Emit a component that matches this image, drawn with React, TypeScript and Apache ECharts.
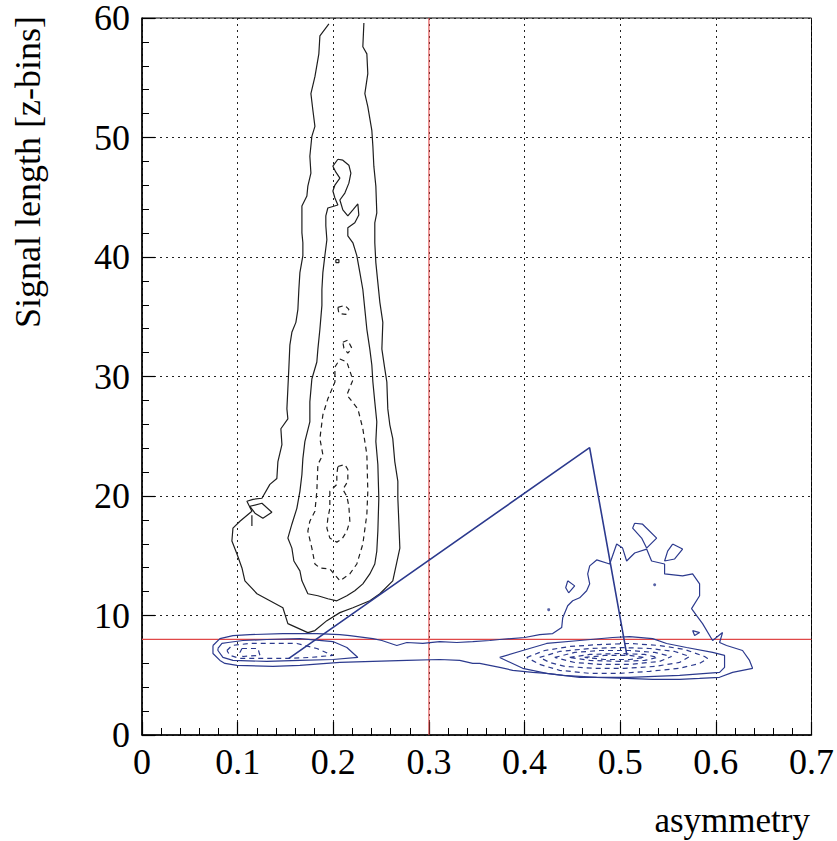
import React, { useEffect, useRef } from 'react';
import * as echarts from 'echarts';

type Pt = [number, number];

// axis ranges
const X_MIN = 0, X_MAX = 0.7, X_STEP = 0.1;
const Y_MIN = 0, Y_MAX = 60, Y_STEP = 10;
const CUT_X = 0.3;
const CUT_Y = 8;

// ---- electrons (black) contours ----
const electronsOuter: Pt[] = [
  [0.1954, 59.5], [0.186, 58.5], [0.1849, 57.0], [0.1808, 55.09], [0.1766, 53.67], [0.1787, 52.26],
  [0.1808, 50.93], [0.1776, 50.1], [0.1755, 48.43], [0.1766, 47.02], [0.1734, 45.93], [0.1724, 45.1],
  [0.1672, 44.27], [0.1672, 42.02], [0.1682, 41.19], [0.1682, 40.11], [0.1651, 38.69], [0.164, 37.28],
  [0.163, 35.62], [0.1609, 34.53], [0.1567, 33.7], [0.1546, 32.62], [0.1536, 30.79], [0.1525, 28.96],
  [0.1515, 27.29], [0.1525, 26.46], [0.1452, 25.63], [0.1463, 24.3], [0.1421, 22.88], [0.141, 21.47],
  [0.1337, 20.97], [0.1254, 19.81], [0.116, 19.72], [0.1097, 19.56], [0.1149, 18.72], [0.1024, 17.89],
  [0.0951, 17.31], [0.094, 16.23], [0.0993, 15.15], [0.1045, 13.98], [0.1076, 12.9], [0.1202, 11.82],
  [0.1473, 10.65], [0.1525, 9.32], [0.1734, 8.57], [0.1808, 8.74], [0.1933, 9.57], [0.2069, 10.24],
  [0.2205, 10.65], [0.2382, 11.23], [0.2487, 11.82], [0.2622, 12.9], [0.2696, 15.64], [0.2685, 17.89],
  [0.2675, 19.81], [0.2675, 21.22], [0.2643, 22.88], [0.2622, 24.8], [0.2591, 25.96], [0.257, 27.29],
  [0.256, 29.54], [0.2539, 30.62], [0.2508, 32.29], [0.2518, 34.53], [0.2487, 36.2], [0.2466, 37.86],
  [0.2445, 39.53], [0.2434, 41.19], [0.2434, 42.86], [0.2455, 43.69], [0.2445, 45.93], [0.2424, 47.6],
  [0.2414, 49.26], [0.2403, 50.6], [0.2361, 52.59], [0.233, 53.67], [0.2361, 55.34], [0.2351, 57.0],
  [0.2309, 57.59], [0.232, 59.58],
];
const electronsKnot: Pt[] = [
  [0.1128, 19.14], [0.1254, 19.39], [0.1358, 18.64], [0.1264, 18.14], [0.1181, 18.56],
];
const electronsTick: Pt[] = [[0.1149, 18.39], [0.1149, 17.48]];
const electronsSecond: Pt[] = [
  [0.2048, 48.18], [0.21, 48.1], [0.2163, 47.68], [0.2184, 47.02], [0.2163, 46.18], [0.2121, 45.35],
  [0.2069, 44.77], [0.21, 43.94], [0.2152, 43.44], [0.2205, 43.94], [0.2257, 44.44], [0.2267, 43.52],
  [0.2225, 42.86], [0.2152, 42.44], [0.2152, 41.77], [0.2205, 41.19], [0.2246, 40.11], [0.2278, 38.69],
  [0.2309, 37.28], [0.233, 35.62], [0.2351, 33.95], [0.2382, 32.29], [0.2403, 30.96], [0.2414, 29.54],
  [0.2434, 27.88], [0.2455, 26.21], [0.2445, 24.55], [0.2466, 22.63], [0.2476, 19.81], [0.2466, 17.06],
  [0.2455, 15.39], [0.2434, 14.31], [0.2382, 13.48], [0.2309, 12.65], [0.2225, 12.07], [0.2142, 11.65],
  [0.2037, 11.23], [0.1943, 11.4], [0.1839, 11.65], [0.1734, 11.82], [0.1672, 12.9], [0.1651, 13.73],
  [0.1588, 14.56], [0.1567, 15.64], [0.1525, 16.48], [0.1567, 17.64], [0.1619, 18.97], [0.1651, 20.39],
  [0.1672, 21.8], [0.1682, 23.13], [0.1703, 24.55], [0.1755, 26.21], [0.1755, 27.88], [0.1776, 29.79],
  [0.1828, 31.21], [0.1839, 32.29], [0.186, 33.95], [0.1881, 35.95], [0.1881, 37.28], [0.1891, 38.69],
  [0.1912, 40.11], [0.1933, 41.44], [0.1922, 42.61], [0.1922, 43.44], [0.1943, 44.1], [0.2048, 44.35],
  [0.2017, 44.94], [0.1996, 45.52], [0.2017, 46.02], [0.2069, 46.6], [0.2027, 47.1], [0.1996, 47.6],
];
const electronsThird: Pt[] = [
  [0.2069, 31.46], [0.2142, 31.21], [0.2205, 29.71], [0.2142, 28.46], [0.2257, 27.29], [0.2309, 25.63],
  [0.2351, 23.47], [0.2361, 20.39], [0.2351, 18.47], [0.2309, 15.98], [0.2246, 14.31], [0.2173, 13.48],
  [0.2069, 12.9], [0.1964, 13.9], [0.186, 13.98], [0.1808, 14.31], [0.1776, 15.64], [0.1734, 17.06],
  [0.1755, 17.89], [0.1808, 18.72], [0.1828, 20.39], [0.1839, 22.63], [0.1891, 23.47], [0.186, 24.8],
  [0.1891, 26.79], [0.1943, 28.13], [0.2017, 29.54], [0.2017, 30.79],
];
const electronsFourth: Pt[] = [
  [0.2048, 22.47], [0.2121, 22.63], [0.2152, 22.22], [0.2152, 21.22], [0.21, 20.55], [0.2142, 19.97],
  [0.2163, 19.14], [0.2173, 17.89], [0.2142, 17.06], [0.209, 16.39], [0.2037, 16.14], [0.1964, 16.48],
  [0.1933, 17.31], [0.1943, 18.14], [0.1964, 18.97], [0.1964, 20.39], [0.2037, 20.97], [0.2037, 21.8],
];
const electronsIsland1: Pt[] = [[0.2048, 35.78], [0.2121, 35.95], [0.2163, 35.62], [0.2131, 35.2], [0.2058, 35.28]];
const electronsIsland2: Pt[] = [[0.21, 32.87], [0.2152, 33.04], [0.2194, 32.37], [0.2152, 31.95], [0.2111, 32.37]];
const electronsIsland3: Pt[] = [[0.2027, 39.78], [0.2059, 39.78], [0.2059, 39.53], [0.2027, 39.53]];

// ---- discharges (blue) contours ----
const dischargesOuter: Pt[] = [
  [0.0742, 7.49], [0.0815, 8.07], [0.0951, 8.32], [0.1128, 8.4], [0.1473, 8.49], [0.1828, 8.49],
  [0.2069, 8.4], [0.2173, 8.32], [0.2414, 8.07], [0.2508, 7.91], [0.2664, 7.49], [0.2769, 7.74],
  [0.2936, 7.66], [0.3113, 7.82], [0.3291, 7.74], [0.3458, 7.82], [0.3636, 7.91], [0.374, 7.99],
  [0.4002, 8.16], [0.4158, 8.4], [0.4294, 8.49], [0.4388, 8.99], [0.4399, 9.82], [0.4451, 10.82],
  [0.4503, 11.23], [0.4576, 11.48], [0.4649, 12.07], [0.4681, 12.65], [0.466, 13.48], [0.4681, 14.15],
  [0.4754, 14.65], [0.489, 14.31], [0.4963, 15.98], [0.5025, 15.64], [0.5067, 14.56], [0.5151, 15.23],
  [0.5276, 15.56], [0.5328, 14.56], [0.5464, 14.31], [0.5464, 13.48], [0.5652, 13.31], [0.5757, 13.48],
  [0.583, 12.65], [0.583, 11.65], [0.5746, 10.57], [0.5799, 9.99], [0.5861, 9.32], [0.5966, 7.91],
  [0.607, 8.57], [0.6039, 7.74], [0.6112, 7.49], [0.6279, 7.07], [0.6352, 6.24], [0.6384, 5.58],
  [0.6279, 5.41], [0.6175, 5.24], [0.6039, 4.83], [0.583, 4.74], [0.5621, 4.66], [0.5339, 4.66],
  [0.5067, 4.74], [0.4754, 4.83], [0.4399, 4.99], [0.4231, 5.16], [0.4085, 5.24], [0.3876, 5.41],
  [0.374, 5.66], [0.3531, 5.99], [0.3458, 5.99], [0.3322, 6.24], [0.3113, 6.32], [0.2769, 6.24],
  [0.2414, 6.16], [0.2069, 6.07], [0.1651, 5.83], [0.1369, 5.74], [0.0993, 5.83], [0.0867, 5.99],
  [0.0815, 6.24], [0.0742, 6.82],
];
const dischargesLeft2: Pt[] = [
  [0.0794, 7.24], [0.0836, 7.66], [0.0899, 7.74], [0.1055, 7.91], [0.1306, 7.99], [0.1651, 8.07],
  [0.1996, 7.82], [0.2142, 7.32], [0.2257, 6.49], [0.1996, 6.32], [0.1651, 6.24], [0.1306, 6.16],
  [0.0951, 6.24], [0.0846, 6.49], [0.0794, 7.07],
];
const dischargesLeft3: Pt[] = [
  [0.0888, 7.07], [0.094, 7.49], [0.1128, 7.66], [0.139, 7.66], [0.1619, 7.66], [0.1828, 7.24],
  [0.1996, 6.66], [0.1755, 6.49], [0.1546, 6.41], [0.1233, 6.41], [0.1024, 6.41], [0.0919, 6.66],
];
const dischargesLeft4: Pt[] = [[0.1045, 7.24], [0.1212, 7.24], [0.1233, 6.66], [0.1055, 6.57], [0.1024, 6.91]];
const dischargesRight2: Pt[] = [
  [0.374, 6.49], [0.3981, 7.07], [0.4231, 7.66], [0.4576, 7.91], [0.4921, 8.16], [0.5099, 8.24],
  [0.5339, 8.07], [0.5485, 7.66], [0.5694, 7.32], [0.5966, 6.91], [0.6091, 6.66], [0.6091, 5.66],
  [0.6039, 5.24], [0.5621, 4.99], [0.5099, 4.83], [0.4576, 4.83], [0.4231, 5.16], [0.3981, 5.58],
];
const dischargesRing1: Pt[] = [
  [0.4022, 6.49], [0.4211, 7.07], [0.4472, 7.41], [0.4785, 7.57], [0.5099, 7.66], [0.5412, 7.49],
  [0.5673, 7.16], [0.5882, 6.57], [0.5914, 6.41], [0.583, 5.99], [0.5621, 5.58], [0.5308, 5.33],
  [0.4994, 5.16], [0.4681, 5.16], [0.4367, 5.41], [0.4158, 5.91],
];
const dischargesRing2: Pt[] = [
  [0.4158, 6.49], [0.4367, 6.99], [0.4681, 7.24], [0.4994, 7.32], [0.5308, 7.24], [0.5569, 6.99],
  [0.5726, 6.57], [0.5621, 6.07], [0.536, 5.74], [0.5046, 5.58], [0.4733, 5.58], [0.442, 5.74],
  [0.4263, 6.07],
];
const dischargesRing3: Pt[] = [
  [0.4315, 6.49], [0.4524, 6.91], [0.4785, 7.07], [0.5099, 7.07], [0.536, 6.91], [0.5537, 6.57],
  [0.5412, 6.16], [0.5099, 5.91], [0.4785, 5.91], [0.4524, 6.07],
];
const dischargesRing4: Pt[] = [
  [0.4472, 6.49], [0.4681, 6.74], [0.4994, 6.82], [0.5255, 6.74], [0.5391, 6.49], [0.5255, 6.24],
  [0.4994, 6.16], [0.4681, 6.24],
];
const dischargesRing5: Pt[] = [
  [0.4628, 6.49], [0.4837, 6.66], [0.5099, 6.66], [0.5255, 6.49], [0.5099, 6.32], [0.4837, 6.32],
];
const dischargesIsland1: Pt[] = [[0.4451, 12.9], [0.4524, 12.48], [0.4461, 11.9], [0.443, 12.32]];
const dischargesIsland2: Pt[] = [[0.5151, 17.72], [0.5234, 17.64], [0.5381, 16.48], [0.5276, 15.64], [0.5224, 16.48], [0.513, 17.31]];
const dischargesIsland3: Pt[] = [[0.5548, 15.98], [0.5652, 15.56], [0.5569, 14.73], [0.5464, 14.56], [0.5496, 15.39]];
const dischargesIsland4: Pt[] = [[0.5757, 8.74], [0.583, 8.57], [0.5778, 8.32]];
const dischargesDots: Pt[] = [[0.4252, 10.49], [0.536, 12.57]];

// pointer lines from the "discharges" label
const pointer: Pt[] = [[0.1536, 6.41], [0.468, 24.05], [0.507, 6.66]];

// annotation anchors
const labels: { text: string; at: Pt }[] = [
  { text: 'electrons', at: [0.022, 42.3] },
  { text: 'discharges', at: [0.4, 27.6] },
];

const BLACK = '#1e1e1e';
const BLUE = '#2c3a8e';
const RED = '#e04848';
const FONT = "'Liberation Serif', 'DejaVu Serif', serif";

const closed = (p: Pt[]): Pt[] => [...p, p[0]];

const contour = (data: Pt[], color: string, dashed: boolean, close = true) => ({
  type: 'line',
  data: close ? closed(data) : data,
  showSymbol: false,
  symbol: 'none',
  silent: true,
  z: 3,
  lineStyle: { color, width: 1.2, type: dashed ? [5, 4] : 'solid' },
});

const cutLine = (data: Pt[]) => ({
  type: 'line',
  data,
  showSymbol: false,
  symbol: 'none',
  silent: true,
  z: 2,
  lineStyle: { color: RED, width: 1.1, type: 'solid' },
});

export default function App() {
  const ref = useRef<HTMLDivElement>(null);
  useEffect(() => {
    document.body.style.margin = '0';
    const chart = echarts.init(ref.current!, undefined, { renderer: 'svg' });
    const axisCommon = {
      type: 'value',
      axisLine: { show: true, lineStyle: { color: '#000', width: 1.5 } },
      axisTick: { show: true, inside: true, length: 13, lineStyle: { color: '#000', width: 1.2 } },
      minorTick: { show: true, splitNumber: 5, length: 7, lineStyle: { color: '#000', width: 1 } },
      splitLine: { show: true, lineStyle: { color: '#222', width: 1, type: [2, 4] } },
      minorSplitLine: { show: false },
      axisLabel: { color: '#000', fontFamily: FONT, fontSize: 36, lineHeight: 26 },
    };
    chart.setOption({
      animation: false,
      grid: { left: 142, right: 25, top: 14, bottom: 106, show: true, borderColor: '#000', borderWidth: 1, backgroundColor: 'transparent' },
      xAxis: { ...axisCommon, min: X_MIN, max: X_MAX, interval: X_STEP, axisLabel: { ...axisCommon.axisLabel, margin: 14 } },
      yAxis: { ...axisCommon, min: Y_MIN, max: Y_MAX, interval: Y_STEP, axisLabel: { ...axisCommon.axisLabel, margin: 12 } },
      graphic: [
        {
          type: 'text', x: 28, y: 172, rotation: Math.PI / 2,
          style: { text: 'Signal length [z-bins]', font: `36px ${FONT}`, fill: '#000', align: 'center', verticalAlign: 'middle' },
        },
        {
          type: 'text', x: 810, y: 820,
          style: { text: 'asymmetry', font: `35px ${FONT}`, fill: '#000', align: 'right', verticalAlign: 'middle' },
        },
      ],
      series: [
        cutLine([[CUT_X, Y_MIN], [CUT_X, Y_MAX]]),
        cutLine([[X_MIN, CUT_Y], [X_MAX, CUT_Y]]),
        contour(electronsOuter, BLACK, false, false),
        contour(electronsKnot, BLACK, false),
        contour(electronsTick, BLACK, false, false),
        contour(electronsSecond, BLACK, false),
        contour(electronsThird, BLACK, true),
        contour(electronsFourth, BLACK, true),
        contour(electronsIsland1, BLACK, true),
        contour(electronsIsland2, BLACK, true),
        contour(electronsIsland3, BLACK, false),
        contour(dischargesOuter, BLUE, false),
        contour(dischargesLeft2, BLUE, false),
        contour(dischargesLeft3, BLUE, true),
        contour(dischargesLeft4, BLUE, true),
        contour(dischargesRight2, BLUE, false),
        contour(dischargesRing1, BLUE, true),
        contour(dischargesRing2, BLUE, true),
        contour(dischargesRing3, BLUE, true),
        contour(dischargesRing4, BLUE, true),
        contour(dischargesRing5, BLUE, true),
        contour(dischargesIsland1, BLUE, false),
        contour(dischargesIsland2, BLUE, false),
        contour(dischargesIsland3, BLUE, false),
        contour(dischargesIsland4, BLUE, false),
        {
          type: 'scatter', data: dischargesDots, symbolSize: 3, silent: true,
          itemStyle: { color: BLUE },
        },
        {
          type: 'line', data: pointer, showSymbol: false, symbol: 'none', silent: true, z: 4,
          lineStyle: { color: BLUE, width: 1.6 },
        },
        {
          type: 'scatter', silent: true, symbolSize: 1, itemStyle: { opacity: 0 },
          data: labels.map((l) => ({ value: l.at, name: l.text })),
          label: {
            show: true, position: 'right', distance: 5, formatter: '{b}',
            color: '#000', fontFamily: FONT, fontSize: 37,
          },
        },
      ],
    });
    return () => chart.dispose();
  }, []);
  return <div ref={ref} style={{ width: 837, height: 841 }} />;
}
